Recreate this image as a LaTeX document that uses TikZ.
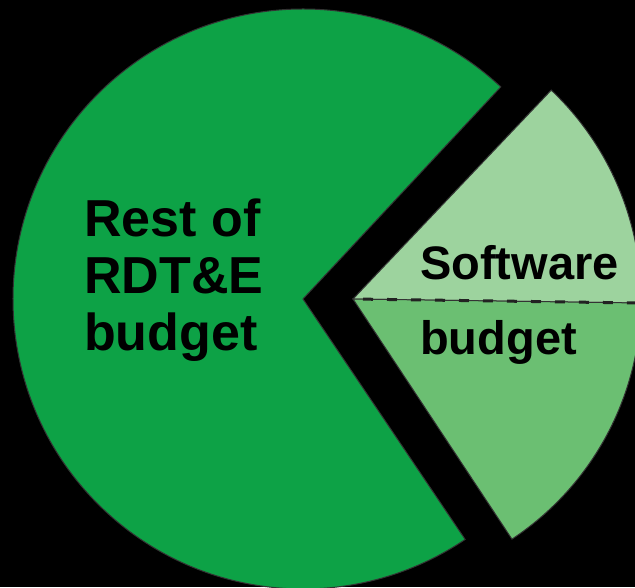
\documentclass[tikz,border=0pt]{standalone}
\usepackage{fontspec}
\setmainfont{Liberation Sans}
\usetikzlibrary{calc}
\definecolor{restgreen}{HTML}{0DA246}
\definecolor{swlight}{HTML}{9DD39E}
\definecolor{swmid}{HTML}{6BBF72}
\definecolor{dashgray}{HTML}{222222}
\tikzset{
  slice/.style={draw=black!80, line width=1pt},
  biglbl/.style={font=\bfseries\fontsize{52}{57}\selectfont, inner sep=0pt, align=left},
  swlbl/.style={font=\bfseries\fontsize{47}{52}\selectfont, inner sep=0pt}
}
\begin{document}
\begin{tikzpicture}[x=1pt, y=1pt]
    \fill[black] (0,0) rectangle (635,587);
    \useasboundingbox (0,0) rectangle (635,587);
    \coordinate (rc) at (303,288);
    \coordinate (sc) at (353,288);
    % rest of the budget
    \filldraw[slice, fill=restgreen] (rc) -- ++(47:290) arc[start angle=47, end angle=304, radius=290] -- cycle;
    % software slice, upper and lower halves
    \filldraw[slice, fill=swlight] (sc) -- ++(46.5:288) arc[start angle=46.5, end angle=-0.8, radius=288] -- cycle;
    \filldraw[slice, fill=swmid] (sc) -- ++(-0.8:288) arc[start angle=-0.8, end angle=-56.5, radius=288] -- cycle;
    \coordinate (se) at ($(sc)+(-0.8:288)$);
    \draw[dashgray, line width=3pt, dash pattern=on 10pt off 14pt, dash phase=14pt] (sc) -- (se);
    \node[biglbl, anchor=base west] (rest) at (84,236) {Rest of\\RDT\&E\\budget};
    \node[swlbl, anchor=base west] (sw) at (420,307) {Software};
    \node[swlbl, anchor=base west] (bud) at (420,232) {budget};
\end{tikzpicture}
\end{document}
